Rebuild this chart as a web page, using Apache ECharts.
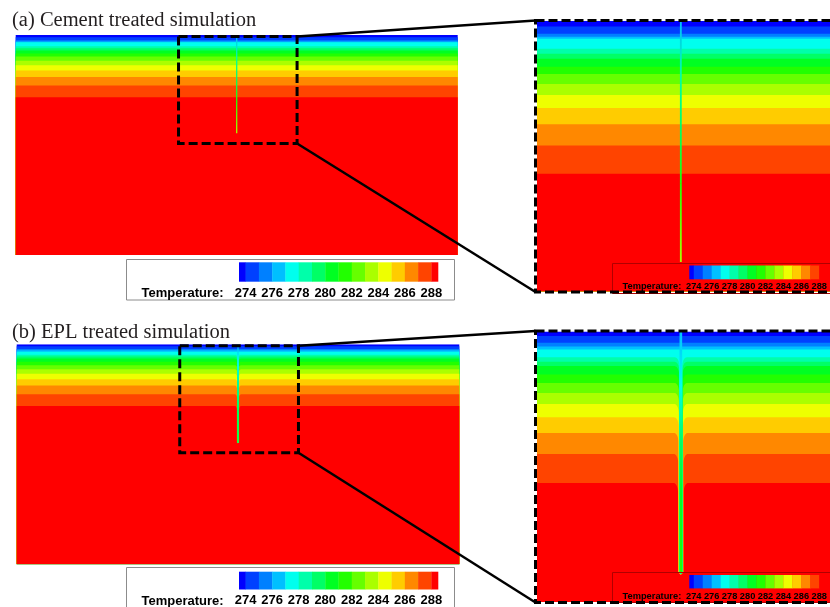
<!DOCTYPE html>
<html>
<head>
<meta charset="utf-8">
<script src="https://cdn.jsdelivr.net/npm/echarts@6/dist/echarts.min.js"></script>
<style>
  html, body { margin: 0; padding: 0; background: #fff; }
  #chart { width: 830px; height: 607px; }
</style>
</head>
<body>
<div id="chart"></div>
<script>
// Contour levels (K), colour of each band between them, legend ticks
const levels = [274, 275, 276, 277, 278, 279, 280, 281, 282, 283, 284, 285, 286, 287, 288];
const tickLabels = [274, 276, 278, 280, 282, 284, 286, 288];
const legendRange = [273.5, 288.5];

// Far-field depth (m) of each isotherm, in the order of `levels`
const isoDepthCement = [0.2, 0.47, 0.58, 0.66, 1.03, 1.21, 1.4, 1.69, 1.96, 2.33, 2.74, 3.22, 3.82, 4.6, 5.65];
const isoDepthEPL    = [0.17, 0.42, 0.55, 0.67, 0.95, 1.12, 1.28, 1.59, 1.9, 2.27, 2.68, 3.17, 3.75, 4.53, 5.6];

// Temperature (K) along the pile
const pileDepth      = [0, 2, 4, 6, 8.9];
const pileTempCement = [276.3, 278.0, 279.8, 281.5, 283.6];
const pileTempEPL    = [276.5, 277.8, 279.0, 280.3, 281.3];

// EPL case: half-width (m) of the cooled zone where each isotherm bends down along the pile
const dipHalfWidthEPL = [0, 0, 0, 0, 0.052, 0.055, 0.058, 0.062, 0.066, 0.07, 0.075, 0.08, 0.087, 0.095, 0.105];

// Model domain and zoom window (m)
const domainX = [-20, 20];
const domainDepth = 20;
const zoomX = [-5.4, 5.6];
const zoomDepth = 10;
const pileLength = 8.9;
const pileRadiusCement = 0.035;
const pileRadiusEPL = 0.05;

// Styling
const bandColors = ['#0000ff', '#0040ff', '#0080ff', '#00c0ff', '#00ffee', '#00ffaa', '#00ff66', '#00ff22',
                    '#22ff00', '#66ff00', '#aaff00', '#eeff00', '#ffcc00', '#ff8800', '#ff4400', '#ff0000'];
const serif = "'Liberation Serif', 'Times New Roman', serif";
const sans = "'Liberation Sans', Arial, sans-serif";

function bandIndex(t) {
  let i = 0;
  while (i < levels.length && t >= levels[i]) i++;
  return i;
}
function tempColor(t) { return bandColors[bandIndex(t)]; }

// ---- series data built from the arrays above ----
function bandData(iso) {
  return [[0, 0]].concat(iso.map((d, i) => [d, i + 1]));
}
function pileData(temps, radius) {
  const out = [];
  for (let i = 0; i < pileDepth.length - 1; i++) {
    out.push([pileDepth[i], pileDepth[i + 1], temps[i], temps[i + 1], radius]);
  }
  return out;
}
function dipData(iso, widths) {
  const out = [];
  for (let k = iso.length - 1; k >= 0; k--) {
    if (widths[k] > 0) out.push([iso[k], widths[k], k]);
  }
  return out;
}
const legendCells = bandColors.map((c, i) => [
  i === 0 ? legendRange[0] : levels[i - 1],
  i === levels.length ? legendRange[1] : levels[i],
  i
]);

// ---- render functions ----
function renderBand(params, api) {
  const cs = params.coordSys;
  const top = api.coord([0, api.value(0)])[1];
  const bottom = cs.y + cs.height;
  return { type: 'rect', shape: { x: cs.x, y: top, width: cs.width, height: bottom - top },
           style: { fill: bandColors[api.value(1)] } };
}
function makePileRenderer(minPx) {
  return function (params, api) {
    const r = api.value(4);
    const p0 = api.coord([-r, api.value(0)]);
    const p1 = api.coord([r, api.value(1)]);
    const w = Math.max(p1[0] - p0[0], minPx);
    const cx = (p0[0] + p1[0]) / 2;
    return {
      type: 'rect',
      shape: { x: cx - w / 2, y: p0[1], width: w, height: p1[1] - p0[1] + 0.3 },
      style: { fill: { type: 'linear', x: 0, y: 0, x2: 0, y2: 1, colorStops: [
        { offset: 0, color: tempColor(api.value(2)) },
        { offset: 1, color: tempColor(api.value(3)) }] } }
    };
  };
}
// isotherm bending down along the pile: rounded shoulder, then hugging the pile to its toe
function renderDip(params, api) {
  const d = api.value(0), hw = api.value(1), k = api.value(2);
  const r = 0.17, rv = 0.36, N = 12;
  const pts = [api.coord([-hw - r, d - 0.03])];
  for (let i = 0; i <= N; i++) {
    const th = i / N * Math.PI / 2;
    pts.push(api.coord([-hw - r + r * Math.sin(th), d + rv - rv * Math.cos(th)]));
  }
  pts.push(api.coord([-hw, pileLength]));
  pts.push(api.coord([0, pileLength + hw]));
  pts.push(api.coord([hw, pileLength]));
  for (let i = N; i >= 0; i--) {
    const th = i / N * Math.PI / 2;
    pts.push(api.coord([hw + r - r * Math.sin(th), d + rv - rv * Math.cos(th)]));
  }
  pts.push(api.coord([hw + r, d - 0.03]));
  return { type: 'polygon', shape: { points: pts }, style: { fill: bandColors[k] } };
}
function renderZoomBox(params, api) {
  const p0 = api.coord([api.value(0), api.value(2)]);
  const p1 = api.coord([api.value(1), api.value(3)]);
  return { type: 'rect', shape: { x: p0[0] + 1.5, y: p0[1] + 1.5, width: p1[0] - p0[0] - 3, height: p1[1] - p0[1] - 3 },
           style: { fill: 'none', stroke: '#000', lineWidth: 3, lineDash: [9, 4] } };
}
function renderFrame(params, api) {
  const cs = params.coordSys;
  return { type: 'rect', shape: { x: cs.x - 1.5, y: cs.y - 0.5, width: cs.width + 3, height: cs.height + 1 },
           style: { fill: 'none', stroke: '#000', lineWidth: 3, lineDash: [9, 4] } };
}
function renderCell(params, api) {
  const p0 = api.coord([api.value(0), 0]);
  const p1 = api.coord([api.value(1), 1]);
  return { type: 'rect', shape: { x: p0[0], y: p1[1], width: p1[0] - p0[0] + 0.3, height: p0[1] - p1[1] },
           style: { fill: bandColors[api.value(2)] } };
}

// ---- layout ----
const grids = [
  { left: 15.7, top: 35, width: 442, height: 220 },       // 0 cement, full
  { left: 537, top: 21, width: 313, height: 270.5 },      // 1 cement, zoom
  { left: 16.7, top: 344.3, width: 442.6, height: 220 },  // 2 EPL, full
  { left: 537, top: 331.5, width: 313, height: 270.5 },   // 3 EPL, zoom
  { left: 239, top: 262.3, width: 199, height: 19.4 },    // 4 legend cement
  { left: 689.3, top: 265.5, width: 136, height: 13.8 },  // 5 legend cement zoom
  { left: 239, top: 571.7, width: 199, height: 19 },      // 6 legend EPL
  { left: 689.3, top: 575, width: 136, height: 13.4 }     // 7 legend EPL zoom
];
const plotX = [domainX, zoomX, domainX, zoomX];
const plotDepth = [domainDepth, zoomDepth, domainDepth, zoomDepth];

const xAxes = [], yAxes = [];
for (let g = 0; g < 4; g++) {
  xAxes.push({ gridIndex: g, type: 'value', min: plotX[g][0], max: plotX[g][1], show: false });
  yAxes.push({ gridIndex: g, type: 'value', min: 0, max: plotDepth[g], inverse: true, show: false });
}
const legendFont = [13, 9.3, 13, 9.3];
const legendMargin = [5, 2.5, 4.5, 3.5];
for (let g = 4; g < 8; g++) {
  xAxes.push({
    gridIndex: g, type: 'value', min: legendRange[0], max: legendRange[1], position: 'bottom', z: 12,
    axisLine: { show: false }, axisTick: { show: false }, splitLine: { show: false },
    axisLabel: { customValues: tickLabels, margin: legendMargin[g - 4], fontSize: legendFont[g - 4],
                 fontWeight: 'bold', fontFamily: sans, color: '#000' }
  });
  yAxes.push({ gridIndex: g, type: 'value', min: 0, max: 1, show: false });
}

const series = [];
function field(g, iso, temps, radius, dips, minPx) {
  series.push({ type: 'custom', xAxisIndex: g, yAxisIndex: g, renderItem: renderBand, data: bandData(iso), clip: true, silent: true });
  if (dips) series.push({ type: 'custom', xAxisIndex: g, yAxisIndex: g, renderItem: renderDip, data: dipData(iso, dips), clip: true, silent: true });
  series.push({ type: 'custom', xAxisIndex: g, yAxisIndex: g, renderItem: makePileRenderer(minPx), data: pileData(temps, radius), clip: true, silent: true });
}
field(0, isoDepthCement, pileTempCement, pileRadiusCement, null, 1.3);
field(1, isoDepthCement, pileTempCement, pileRadiusCement, null, 1.8);
field(2, isoDepthEPL, pileTempEPL, pileRadiusEPL, dipHalfWidthEPL, 1.3);
field(3, isoDepthEPL, pileTempEPL, pileRadiusEPL, dipHalfWidthEPL, 2.5);
for (let g = 4; g < 8; g++) {
  series.push({ type: 'custom', xAxisIndex: g, yAxisIndex: g, renderItem: renderCell, data: legendCells, silent: true, z: 5 });
}
// dashed zoom windows on the full views and frames round the zoomed views
[0, 2].forEach(g => series.push({ type: 'custom', xAxisIndex: g, yAxisIndex: g, renderItem: renderZoomBox,
  data: [[zoomX[0], zoomX[1], 0, zoomDepth]], clip: false, silent: true, z: 8 }));
[1, 3].forEach(g => series.push({ type: 'custom', xAxisIndex: g, yAxisIndex: g, renderItem: renderFrame,
  data: [[0]], clip: false, silent: true, z: 8 }));

const graphic = [
  { type: 'rect', shape: { x: 126.5, y: 259.5, width: 328, height: 40.5 }, style: { fill: 'none', stroke: '#8c8c8c', lineWidth: 1 }, z: 4 },
  { type: 'rect', shape: { x: 126.5, y: 567.5, width: 328, height: 45 }, style: { fill: 'none', stroke: '#8c8c8c', lineWidth: 1 }, z: 4 },
  { type: 'rect', shape: { x: 612.5, y: 263.5, width: 240, height: 30 }, style: { fill: 'none', stroke: '#b00000', lineWidth: 1 }, z: 6 },
  { type: 'rect', shape: { x: 612.5, y: 572.5, width: 240, height: 30 }, style: { fill: 'none', stroke: '#b00000', lineWidth: 1 }, z: 6 },
  { type: 'text', x: 141.5, y: 293.3, style: { text: 'Temperature:', font: 'bold 13px ' + sans, fill: '#000', verticalAlign: 'middle' }, z: 6 },
  { type: 'text', x: 141.5, y: 601.6, style: { text: 'Temperature:', font: 'bold 13px ' + sans, fill: '#000', verticalAlign: 'middle' }, z: 6 },
  { type: 'text', x: 622.5, y: 286.9, style: { text: 'Temperature:', font: 'bold 9.3px ' + sans, fill: '#000', verticalAlign: 'middle' }, z: 6 },
  { type: 'text', x: 622.5, y: 596.6, style: { text: 'Temperature:', font: 'bold 9.3px ' + sans, fill: '#000', verticalAlign: 'middle' }, z: 6 }
];

const chart = echarts.init(document.getElementById('chart'), null, { renderer: 'canvas' });
chart.setOption({
  animation: false,
  backgroundColor: '#fff',
  title: [
    { text: '(a) Cement treated simulation', left: 12, top: 10, padding: 0,
      textStyle: { fontFamily: serif, fontSize: 20.5, fontWeight: 'normal', color: '#231f20' } },
    { text: '(b) EPL treated simulation', left: 12, top: 322, padding: 0,
      textStyle: { fontFamily: serif, fontSize: 20.5, fontWeight: 'normal', color: '#231f20' } }
  ],
  grid: grids,
  xAxis: xAxes,
  yAxis: yAxes,
  series: series,
  graphic: graphic
});

// connector lines from each zoom window to its enlarged view
const links = [];
[[0, 1], [2, 3]].forEach(([full, zoom]) => {
  const a = chart.convertToPixel({ gridIndex: full }, [zoomX[1], 0]);
  const b = chart.convertToPixel({ gridIndex: full }, [zoomX[1], zoomDepth]);
  const c = chart.convertToPixel({ gridIndex: zoom }, [zoomX[0], 0]);
  const d = chart.convertToPixel({ gridIndex: zoom }, [zoomX[0], zoomDepth]);
  links.push({ type: 'line', shape: { x1: a[0] - 1.5, y1: a[1] + 1.5, x2: c[0] - 1.5, y2: c[1] - 0.5 }, style: { stroke: '#000', lineWidth: 2.5 }, z: 9 });
  links.push({ type: 'line', shape: { x1: b[0] - 1.5, y1: b[1] - 1.5, x2: d[0] - 1.5, y2: d[1] + 0.5 }, style: { stroke: '#000', lineWidth: 2.5 }, z: 9 });
});
chart.setOption({ graphic: graphic.concat(links) });
</script>
</body>
</html>
